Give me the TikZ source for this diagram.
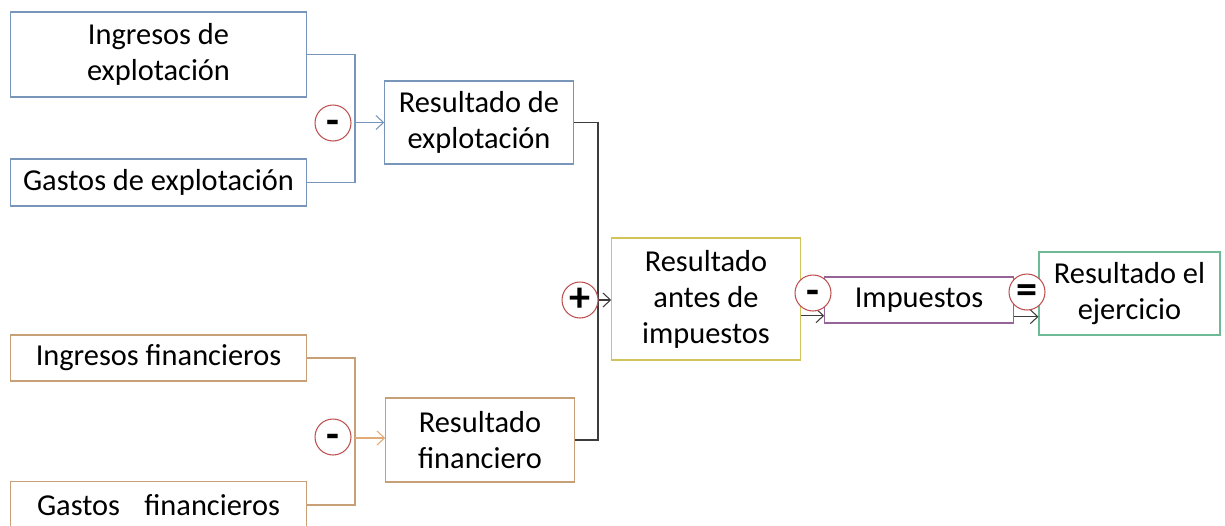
\documentclass[tikz,border=0pt]{standalone}
\usepackage{fontspec}
\setmainfont{Carlito}
\usetikzlibrary{arrows.meta,calc}
\tikzset{>={Straight Barb[length=1.5mm,width=2.8mm]}}
\definecolor{expblue}{RGB}{120,150,185}
\definecolor{finorange}{RGB}{200,160,120}
\definecolor{finarrow}{RGB}{225,170,120}
\definecolor{aiyellow}{RGB}{210,195,90}
\definecolor{imppurple}{RGB}{150,100,150}
\definecolor{ejgreen}{RGB}{110,185,150}
\definecolor{signred}{RGB}{190,80,80}
\definecolor{darkline}{RGB}{60,60,60}
\tikzstyle{expbox}=[rectangle,draw=expblue,align=center,inner sep=0pt]
\tikzstyle{finbox}=[rectangle,draw=finorange,align=center,inner sep=0pt]
\tikzstyle{sign}=[circle,draw=signred,fill=white,minimum size=0.72cm,inner sep=0pt,text height=13pt,text depth=0pt,font=\bfseries\fontsize{24}{24}\selectfont]

\begin{document}
\begin{tikzpicture}[x=0.02cm,y=-0.02cm,font=\fontsize{17.3}{20.5}\selectfont,line width=0.6pt]
\def \inw {5.94};
\def \resw {3.77};

\useasboundingbox (0,0) rectangle (1225,525);

% explotacion
\node[expbox,minimum width= \inw cm,minimum height=1.70cm] (ingexp) at (158.5,54.5) {Ingresos de\\explotación};
\node[expbox,minimum width= \inw cm,minimum height=0.94cm] (gasexp) at (158.5,182.5) {Gastos de explotación};
\node[expbox,minimum width= \resw cm,minimum height=1.66cm] (resexp) at (479,122.5) {Resultado de\\explotación};

% financiero
\node[finbox,minimum width= \inw cm,minimum height=0.92cm] (ingfin) at (158.5,358) {Ingresos financieros};
\node[finbox,minimum width= \inw cm,minimum height=0.94cm] (gasfin) at (158.5,505) {Gastos\hspace{0.8em}financieros};
\node[finbox,minimum width= \resw cm,minimum height=1.68cm] (resfin) at (480,440) {Resultado\\financiero};

% resultado
\node[rectangle,draw=aiyellow,align=center,minimum width= \resw cm,minimum height=2.44cm] (resai) at (706,299) {Resultado\\antes de\\impuestos};
\node[rectangle,draw=imppurple,minimum width= \resw cm,minimum height=0.92cm] (imp) at (919,300) {Impuestos};
\node[rectangle,draw=ejgreen,align=center,minimum width=3.62cm,minimum height=1.66cm] (resej) at (1129.5,293.5) {Resultado el\\ejercicio};

\coordinate (jexp) at (355,122.5);
\coordinate (jfin) at (355,438);
\coordinate (jres) at (598,300);

\draw[expblue] (ingexp.east) -| (jexp) |- (gasexp.east);
\draw[expblue,->] (jexp) -- (jexp -| resexp.west);

\draw[finorange] (ingfin.east) -| (jfin) |- (gasfin.east);
\draw[finarrow,->] (jfin) -- (jfin -| resfin.west);

\draw[darkline] (resexp.east) -| (jres) |- (resfin.east);
\draw[darkline,->] (jres) -- (jres -| resai.west);
\draw[darkline,->] (resai.-10) -- (resai.-10 -| imp.west);
\draw[darkline,->] (imp.-10) -- (imp.-10 -| resej.west);

\node[sign] (minexp) at (333,123) {-};
\node[sign] (minfin) at (333,437) {-};
\node[sign] (plusres) at (580,300) {+};
\node[sign] (minimp) at (813,293) {-};
\node[sign] (eqres) at (1027,292) {=};

\end{tikzpicture}
\end{document}
